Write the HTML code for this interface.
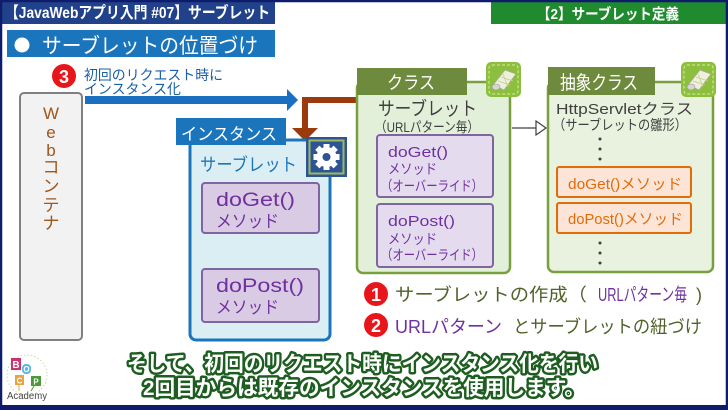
<!DOCTYPE html>
<html>
<head>
<meta charset="utf-8">
<style>
  html,body{margin:0;padding:0;background:#fff;}
  svg{display:block;}
  text{font-family:"Liberation Sans","Noto Sans CJK JP",sans-serif;}
</style>
</head>
<body>
<svg width="728" height="410" viewBox="0 0 728 410" xmlns="http://www.w3.org/2000/svg">
  <rect x="0" y="0" width="728" height="410" fill="#ffffff"/>

  <!-- Title bars -->
  <rect x="0" y="0" width="275" height="24" fill="#21428a"/>
  <text x="5" y="18" font-size="16" font-weight="bold" fill="#ffffff" textLength="265" lengthAdjust="spacingAndGlyphs">【JavaWebアプリ入門 #07】サーブレット</text>
  <rect x="491" y="0" width="237" height="24" fill="#1f8a2e"/>
  <text x="537" y="19" font-size="15" font-weight="bold" fill="#ffffff" textLength="142" lengthAdjust="spacingAndGlyphs">【2】サーブレット定義</text>

  <!-- Section header -->
  <rect x="7" y="30" width="268" height="27" fill="#1b75bc"/>
  <circle cx="22" cy="45" r="7.5" fill="#ffffff"/>
  <text x="42" y="53" font-size="21" fill="#ffffff" textLength="216" lengthAdjust="spacingAndGlyphs">サーブレットの位置づけ</text>

  <!-- Step 3 -->
  <circle cx="64" cy="76" r="12" fill="#e8161b"/>
  <text x="64" y="83" font-size="18" font-weight="bold" fill="#ffffff" text-anchor="middle">3</text>
  <text x="84" y="80" font-size="14" fill="#1a5fa8" textLength="139" lengthAdjust="spacingAndGlyphs">初回のリクエスト時に</text>
  <text x="84" y="94" font-size="14" fill="#1a5fa8" textLength="97" lengthAdjust="spacingAndGlyphs">インスタンス化</text>

  <!-- Blue arrow -->
  <rect x="85" y="96" width="205" height="8" fill="#1a6fc0"/>
  <polygon points="287,89 298,100 287,111" fill="#1a6fc0"/>

  <!-- Web container -->
  <rect x="20" y="93" width="62" height="247" rx="4" fill="#f2f2f2" stroke="#808080" stroke-width="2"/>
  <g font-size="17" fill="#a0561c" text-anchor="middle">
    <text x="51" y="119">W</text>
    <text x="51" y="138">e</text>
    <text x="51" y="156">b</text>
    <text x="51" y="173">コ</text>
    <text x="51" y="192">ン</text>
    <text x="51" y="211">テ</text>
    <text x="51" y="229">ナ</text>
  </g>

  <!-- Brown arrow -->
  <rect x="302" y="97" width="58" height="6" fill="#9b3a0c"/>
  <rect x="302" y="97" width="6" height="32" fill="#9b3a0c"/>
  <polygon points="292,128 318,128 305,141" fill="#9b3a0c"/>

  <!-- Instance box -->
  <rect x="190" y="140" width="140" height="200" rx="6" fill="#dbeef4" stroke="#1b75bc" stroke-width="3"/>
  <rect x="176" y="118" width="110" height="27" fill="#1b75bc"/>
  <text x="181" y="140" font-size="17" fill="#ffffff" textLength="96" lengthAdjust="spacingAndGlyphs">インスタンス</text>
  <text x="200" y="171" font-size="18" fill="#1b75bc" textLength="97" lengthAdjust="spacingAndGlyphs">サーブレット</text>

  <!-- Gear -->
  <rect x="306" y="137" width="41" height="40" fill="#2f5496"/>
  <rect x="309.5" y="140.5" width="34" height="33" fill="none" stroke="#9bbb59" stroke-width="2"/>
  <g transform="translate(326.5,157)" fill="#ffffff">
    <circle r="10"/>
    <rect x="-3" y="-13" width="6" height="26"/>
    <rect x="-3" y="-13" width="6" height="26" transform="rotate(45)"/>
    <rect x="-3" y="-13" width="6" height="26" transform="rotate(90)"/>
    <rect x="-3" y="-13" width="6" height="26" transform="rotate(135)"/>
    <circle r="4" fill="#2f5496"/>
  </g>

  <!-- Instance methods -->
  <rect x="202" y="183" width="117" height="50" rx="3" fill="#d9cbe3" stroke="#8064a2" stroke-width="2"/>
  <text x="216" y="206" font-size="19" fill="#7030a0" textLength="79" lengthAdjust="spacingAndGlyphs">doGet()</text>
  <text x="216" y="227" font-size="17" fill="#7030a0" textLength="63" lengthAdjust="spacingAndGlyphs">メソッド</text>
  <rect x="202" y="269" width="117" height="53" rx="3" fill="#d9cbe3" stroke="#8064a2" stroke-width="2"/>
  <text x="216" y="292" font-size="19" fill="#7030a0" textLength="88" lengthAdjust="spacingAndGlyphs">doPost()</text>
  <text x="216" y="313" font-size="17" fill="#7030a0" textLength="63" lengthAdjust="spacingAndGlyphs">メソッド</text>

  <!-- Class box -->
  <rect x="357" y="82" width="153" height="191" rx="6" fill="#e2efd9" stroke="#7a9f3f" stroke-width="2.5"/>
  <rect x="357" y="68" width="110" height="27" fill="#6e8b3d"/>
  <text x="387" y="89" font-size="18" fill="#ffffff" textLength="48" lengthAdjust="spacingAndGlyphs">クラス</text>
  <text x="378" y="115" font-size="19" fill="#404040" textLength="99" lengthAdjust="spacingAndGlyphs">サーブレット</text>
  <text x="375" y="132" font-size="14" fill="#404040" textLength="104" lengthAdjust="spacingAndGlyphs">（URLパターン毎）</text>

  <rect x="377" y="135" width="116" height="62" rx="3" fill="#e4dcee" stroke="#8064a2" stroke-width="2"/>
  <text x="388" y="157" font-size="15" fill="#7030a0" textLength="60" lengthAdjust="spacingAndGlyphs">doGet()</text>
  <text x="388" y="174" font-size="14" fill="#7030a0" textLength="49" lengthAdjust="spacingAndGlyphs">メソッド</text>
  <text x="381" y="191" font-size="14" fill="#7030a0" textLength="102" lengthAdjust="spacingAndGlyphs">（オーバーライド）</text>
  <rect x="377" y="204" width="116" height="63" rx="3" fill="#e4dcee" stroke="#8064a2" stroke-width="2"/>
  <text x="388" y="226" font-size="15" fill="#7030a0" textLength="67" lengthAdjust="spacingAndGlyphs">doPost()</text>
  <text x="388" y="244" font-size="14" fill="#7030a0" textLength="49" lengthAdjust="spacingAndGlyphs">メソッド</text>
  <text x="381" y="260" font-size="14" fill="#7030a0" textLength="102" lengthAdjust="spacingAndGlyphs">（オーバーライド）</text>

  <!-- Icon (class) -->
  <g transform="translate(486,62)">
    <rect x="0" y="0" width="35" height="35" rx="5" fill="#8dbf3f"/>
    <rect x="3" y="3" width="29" height="29" rx="3" fill="none" stroke="#d8ec9a" stroke-width="1" stroke-dasharray="3,2"/>
    <polygon points="7,23 19,8 30,12 18,28" fill="#eef0dc" stroke="#a9ad8a" stroke-width="0.8"/>
    <line x1="12" y1="19" x2="24" y2="23" stroke="#c3d08e" stroke-width="0.8"/>
    <line x1="15" y1="15" x2="27" y2="19" stroke="#c3d08e" stroke-width="0.8"/>
    <line x1="17" y1="12" x2="22" y2="25" stroke="#c3d08e" stroke-width="0.8"/>
    <ellipse cx="10" cy="25" rx="4" ry="3" fill="#d6d6d0" stroke="#999" stroke-width="0.6"/>
  </g>

  <!-- Inheritance arrow -->
  <line x1="512" y1="128" x2="536" y2="128" stroke="#404040" stroke-width="1.2"/>
  <polygon points="536,121 546,128 536,135" fill="#ffffff" stroke="#404040" stroke-width="1.2"/>

  <!-- Abstract class box -->
  <rect x="548" y="82" width="165" height="190" rx="6" fill="#e8f2df" stroke="#7a9f3f" stroke-width="2.5"/>
  <rect x="548" y="67" width="107" height="28" fill="#6e8b3d"/>
  <text x="560" y="89" font-size="19" fill="#ffffff" textLength="78" lengthAdjust="spacingAndGlyphs">抽象クラス</text>
  <text x="556" y="114" font-size="15" fill="#404040" textLength="137" lengthAdjust="spacingAndGlyphs">HttpServletクラス</text>
  <text x="553" y="130" font-size="14" fill="#404040" textLength="134" lengthAdjust="spacingAndGlyphs">（サーブレットの雛形）</text>
  <g fill="#404040">
    <circle cx="600" cy="139" r="1.5"/>
    <circle cx="600" cy="149" r="1.5"/>
    <circle cx="600" cy="159" r="1.5"/>
    <circle cx="600" cy="243" r="1.5"/>
    <circle cx="600" cy="253" r="1.5"/>
    <circle cx="600" cy="263" r="1.5"/>
  </g>
  <rect x="557" y="167" width="134" height="30" rx="2" fill="#fce4d6" stroke="#e36c0a" stroke-width="2"/>
  <text x="568" y="189" font-size="15" fill="#e36c0a" textLength="114" lengthAdjust="spacingAndGlyphs">doGet()メソッド</text>
  <rect x="557" y="203" width="134" height="30" rx="2" fill="#fce4d6" stroke="#e36c0a" stroke-width="2"/>
  <text x="568" y="224" font-size="15" fill="#e36c0a" textLength="115" lengthAdjust="spacingAndGlyphs">doPost()メソッド</text>

  <!-- Icon (abstract) -->
  <g transform="translate(681,62)">
    <rect x="0" y="0" width="35" height="35" rx="5" fill="#8dbf3f"/>
    <rect x="3" y="3" width="29" height="29" rx="3" fill="none" stroke="#d8ec9a" stroke-width="1" stroke-dasharray="3,2"/>
    <polygon points="7,23 19,8 30,12 18,28" fill="#eef0dc" stroke="#a9ad8a" stroke-width="0.8"/>
    <line x1="12" y1="19" x2="24" y2="23" stroke="#c3d08e" stroke-width="0.8"/>
    <line x1="15" y1="15" x2="27" y2="19" stroke="#c3d08e" stroke-width="0.8"/>
    <line x1="17" y1="12" x2="22" y2="25" stroke="#c3d08e" stroke-width="0.8"/>
    <ellipse cx="10" cy="25" rx="4" ry="3" fill="#d6d6d0" stroke="#999" stroke-width="0.6"/>
  </g>

  <!-- Numbered items -->
  <circle cx="376" cy="294" r="12" fill="#e8161b"/>
  <text x="376" y="301" font-size="18" font-weight="bold" fill="#ffffff" text-anchor="middle">1</text>
  <text x="395" y="301" font-size="18" fill="#4f6228" textLength="192" lengthAdjust="spacingAndGlyphs">サーブレットの作成（</text>
  <text x="598" y="301" font-size="18" fill="#7030a0" textLength="89" lengthAdjust="spacingAndGlyphs">URLパターン毎</text>
  <text x="696" y="301" font-size="18" fill="#4f6228">)</text>

  <circle cx="376" cy="325" r="12" fill="#e8161b"/>
  <text x="376" y="332" font-size="18" font-weight="bold" fill="#ffffff" text-anchor="middle">2</text>
  <text x="395" y="333" font-size="18" fill="#7030a0" textLength="107" lengthAdjust="spacingAndGlyphs">URLパターン</text>
  <text x="513" y="333" font-size="18" fill="#4f6228" textLength="189" lengthAdjust="spacingAndGlyphs">とサーブレットの紐づけ</text>

  <!-- Bottom caption -->
  <g font-size="21" font-weight="bold" fill="#ffffff" stroke="#1d5e20" stroke-width="5" stroke-linejoin="round" style="paint-order:stroke">
    <text x="127" y="371" textLength="471" lengthAdjust="spacingAndGlyphs">そして、初回のリクエスト時にインスタンス化を行い</text>
    <text x="143" y="395" textLength="442" lengthAdjust="spacingAndGlyphs">2回目からは既存のインスタンスを使用します。</text>
  </g>

  <!-- Logo -->
  <circle cx="27" cy="375" r="20" fill="none" stroke="#c9d9a8" stroke-width="1" stroke-dasharray="1.5,2"/>
  <rect x="11" y="358" width="10" height="12" fill="#c8336e"/>
  <text x="16" y="368" font-size="10" font-weight="bold" fill="#ffffff" text-anchor="middle">B</text>
  <rect x="22" y="364" width="9" height="10" rx="4" fill="#5bb8e0"/>
  <text x="26.5" y="372" font-size="8" font-weight="bold" fill="#ffffff" text-anchor="middle">O</text>
  <rect x="15" y="375" width="9" height="10" fill="#e8a33c"/>
  <text x="19.5" y="383.5" font-size="8" font-weight="bold" fill="#ffffff" text-anchor="middle">C</text>
  <rect x="31" y="376" width="10" height="10" fill="#4a9a3a"/>
  <text x="36" y="384.5" font-size="8" font-weight="bold" fill="#ffffff" text-anchor="middle">P</text>
  <line x1="19" y1="385" x2="19" y2="391" stroke="#e8a33c" stroke-width="1"/>
  <line x1="34" y1="386" x2="31" y2="391" stroke="#4a9a3a" stroke-width="1"/>
  <text x="7" y="399" font-size="10" fill="#444444" textLength="40" lengthAdjust="spacingAndGlyphs">Academy</text>

  <!-- Frame -->
  <rect x="1" y="1" width="726" height="407" fill="none" stroke="#0f1c6b" stroke-width="2.5"/>
  <rect x="0" y="405" width="728" height="5" fill="#0f1c6b"/>
</svg>
</body>
</html>
